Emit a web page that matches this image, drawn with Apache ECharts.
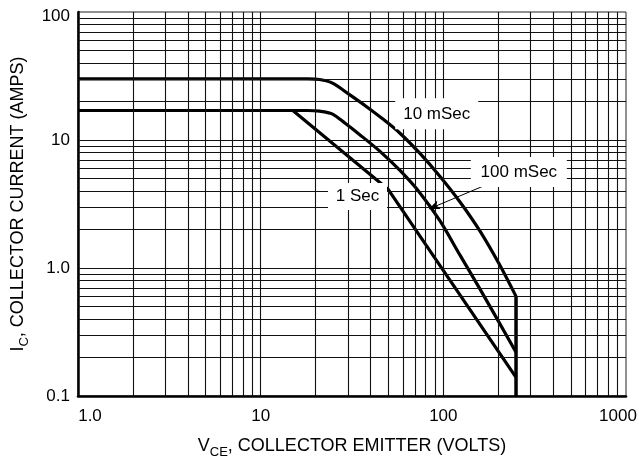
<!DOCTYPE html>
<html>
<head>
<meta charset="utf-8">
<script src="https://cdn.jsdelivr.net/npm/echarts@6/dist/echarts.min.js"></script>
<style>
html,body{margin:0;padding:0;background:#fff;}
#chart{width:639px;height:459px;}
</style>
</head>
<body>
<div id="chart"></div>
<script>
// ---- data ----
var xTickLabels = ['1.0', '10', '100', '1000'];
var yTickLabels = ['0.1', '1.0', '10', '100'];
var xGridValues = [2,3,4,5,6,7,8,9,10,20,30,40,50,60,70,80,90,100,200,300,400,500,600,700,800,900];
var yGridValues = [0.2,0.3,0.4,0.5,0.6,0.7,0.8,0.9,1,2,3,4,5,6,7,8,9,10,20,30,40,50,60,70,80,90];

var curve10ms = [[1,30],[18,30],[21,29.7],[24.9,27.7],[30.8,22.5],[38,18.2],[46.9,14.5],[57.9,11.3],[74.5,7.85],[95.9,5.19],[123.4,3.28],[158.8,1.94],[204,1.05],[250,0.6]];
var curve100ms = [[1,17],[18,17],[21,16.8],[24.6,16.0],[29,13.5],[35,10.96],[45,8.15],[57.9,5.78],[74.5,3.86],[95.9,2.33],[123.4,1.26],[158.8,0.684],[250,0.22]];
var curve1s = [[1,17],[15,17],[50,4.1],[250,0.14]];
var limitLine = [[250,0.6],[250,0.1]];

var labels = [
  {text:'10 mSec', coord:[92,16.0], size:[83,31]},
  {text:'100 mSec', coord:[259,5.63], size:[96,30]},
  {text:'1 Sec', coord:[33.9,3.62], size:[59,27]}
];
var arrow = {from:[187,4.7], to:[83.4,2.89]};

var chart = echarts.init(document.getElementById('chart'), null, {renderer:'canvas'});
var font = 'Liberation Sans, Arial, Helvetica, sans-serif';

function findLabel(list, v){
  for (var i=0;i<list.length;i++){ if (Math.abs(parseFloat(list[i])-v) < 1e-9*Math.max(1,v)) return list[i]; }
  return String(v);
}

var curveStyle = {color:'#000', width:3.2};
var labelRich = {
  first:{fontSize:17, fontFamily:font, color:'#000', padding:[0,0,0,24]},
  last:{fontSize:17, fontFamily:font, color:'#000', padding:[0,16,0,0]},
  top:{fontSize:17, fontFamily:font, color:'#000', padding:[8,0,0,0]}
};

var option = {
  animation:false,
  backgroundColor:'#fff',
  grid:{left:78, right:13, top:12, bottom:63, show:true, borderColor:'#222', borderWidth:1,
        containLabel:false, outerBoundsMode:'none'},
  xAxis:{
    type:'log', logBase:10, min:1, max:1000, interval:1,
    axisLine:{show:true, onZero:false, lineStyle:{color:'#000', width:2.5}},
    axisTick:{show:false},
    splitLine:{show:false},
    axisLabel:{color:'#000', fontSize:17, fontFamily:font, margin:12, rich:labelRich,
      formatter:function(v){
        var s = findLabel(xTickLabels, v);
        if (s === xTickLabels[0]) return '{first|' + s + '}';
        if (s === xTickLabels[xTickLabels.length-1]) return '{last|' + s + '}';
        return s;
      }},
    name:'{a|V}{b|CE}{a|, COLLECTOR EMITTER (VOLTS)}',
    nameLocation:'middle', nameGap:37,
    nameTextStyle:{rich:{
      a:{fontSize:18, fontFamily:font, color:'#000', lineHeight:26, verticalAlign:'middle'},
      b:{fontSize:13, fontFamily:font, color:'#000', lineHeight:26, verticalAlign:'bottom'}
    }}
  },
  yAxis:{
    type:'log', logBase:10, min:0.1, max:100, interval:1,
    axisLine:{show:true, onZero:false, lineStyle:{color:'#000', width:2.5}},
    axisTick:{show:false},
    splitLine:{show:false},
    axisLabel:{color:'#000', fontSize:17, fontFamily:font, margin:8, rich:labelRich,
      formatter:function(v){
        var s = findLabel(yTickLabels, v);
        if (s === yTickLabels[yTickLabels.length-1]) return '{top|' + s + '}';
        return s;
      }},
    name:'{a|I}{b|C}{a|, COLLECTOR CURRENT (AMPS)}',
    nameLocation:'middle', nameGap:47, nameRotate:90,
    nameTextStyle:{rich:{
      a:{fontSize:18, fontFamily:font, color:'#000', lineHeight:26, verticalAlign:'middle'},
      b:{fontSize:13, fontFamily:font, color:'#000', lineHeight:26, verticalAlign:'bottom'}
    }}
  },
  series:[
    {
      type:'line', name:'grid', data:[[1,0.1]], symbol:'none', lineStyle:{width:0}, z:1, silent:true,
      markLine:{
        silent:true, symbol:'none', animation:false,
        label:{show:false},
        lineStyle:{color:'#111', width:1.1, type:'solid'},
        emphasis:{disabled:true},
        data: xGridValues.map(function(v){return {xAxis:v};}).concat(yGridValues.map(function(v){return {yAxis:v};}))
      }
    },
    {
      type:'line', name:'annotations', data:[[1,0.1]], symbol:'none', lineStyle:{width:0}, z:2, silent:true,
      markPoint:{
        silent:true, animation:false,
        data: labels.map(function(l){
          return {coord:l.coord, symbol:'rect', symbolSize:l.size, itemStyle:{color:'#fff'},
            label:{show:true, position:'inside', formatter:l.text, color:'#000', fontSize:17, fontFamily:font}};
        })
      },
      markLine:{
        silent:true, animation:false, symbol:['none','arrow'], symbolSize:[7,11],
        label:{show:false}, lineStyle:{color:'#000', width:1, type:'solid'},
        emphasis:{disabled:true},
        data:[[{coord:arrow.from},{coord:arrow.to}]]
      }
    },
    {type:'line', name:'10 mSec', data:curve10ms, symbol:'none', smooth:0.3, lineStyle:curveStyle, z:3},
    {type:'line', name:'100 mSec', data:curve100ms, symbol:'none', smooth:0.3, lineStyle:curveStyle, z:3},
    {type:'line', name:'1 Sec', data:curve1s, symbol:'none', lineStyle:curveStyle, z:3},
    {type:'line', name:'limit', data:limitLine, symbol:'none', lineStyle:{color:'#000', width:3.5}, z:3}
  ]
};
chart.setOption(option);
</script>
</body>
</html>
